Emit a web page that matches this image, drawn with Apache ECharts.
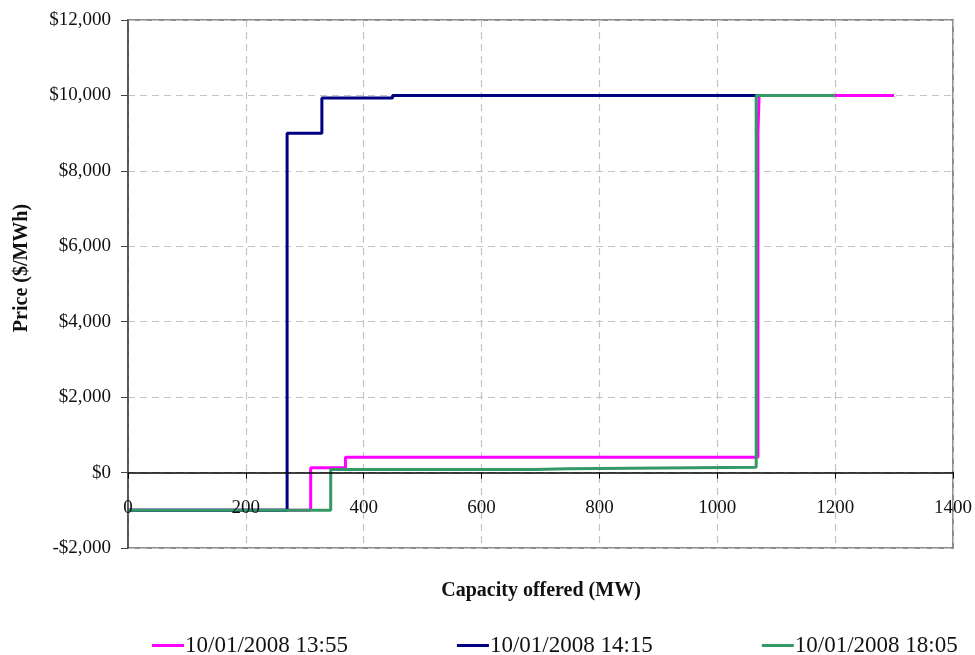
<!DOCTYPE html>
<html>
<head>
<meta charset="utf-8">
<script src="https://cdn.jsdelivr.net/npm/echarts@6/dist/echarts.min.js"></script>
<style>
  html, body { margin: 0; padding: 0; background: #fff; }
  #chart { width: 975px; height: 655px; }
</style>
</head>
<body>
<div id="chart"></div>
<script>
// Offer stacks: each point is [cumulative capacity (MW), price ($/MWh)] where a new price band begins
const seriesNames = ['10/01/2008 13:55', '10/01/2008 14:15', '10/01/2008 18:05'];

const mw1355 = [0, 310, 369, 1069, 1071, 1300];
const price1355 = [-1000, 130, 405, 9000, 10000, 10000];

const mw1415 = [0, 270, 329, 449, 1066];
const price1415 = [-1000, 9000, 9930, 10000, 10000];

const mw1805 = [0, 344, 690, 745, 1066, 1200];
const price1805 = [-1000, 80, 100, 140, 10000, 10000];

const xTicks = [0, 200, 400, 600, 800, 1000, 1200, 1400];
const yTicks = [-2000, 0, 2000, 4000, 6000, 8000, 10000, 12000];

const colors = ['#FF00FF', '#000080', '#339966'];
const FONT = '"Liberation Serif", "DejaVu Serif", serif';

// Grid box in pixels; the capacity axis is drawn along the $0 line
const GRID = { left: 128, right: 21, top: 20, bottom: 107 };
const plotH = 655 - GRID.top - GRID.bottom;
const zeroOffset = -plotH * (0 - yTicks[0]) / (yTicks[yTicks.length - 1] - yTicks[0]);

const gridLineStyle = { color: '#c4c4c4', type: [7, 5], width: 1.2 };

function pairs(xs, ys) { return xs.map((x, i) => [x, ys[i]]); }

function fmtPrice(v) {
  const s = '$' + Math.abs(v).toLocaleString('en-US');
  return v < 0 ? '-' + s : s;
}

const chart = echarts.init(document.getElementById('chart'), null, { renderer: 'canvas' });

const lineSeries = [
  pairs(mw1355, price1355),
  pairs(mw1415, price1415),
  pairs(mw1805, price1805)
].map((data, i) => ({
  name: seriesNames[i],
  type: 'line',
  step: 'end',
  data: data,
  xAxisIndex: 1,
  yAxisIndex: 1,
  showSymbol: false,
  symbol: 'none',
  animation: false,
  z: 3 + i,
  lineStyle: { color: colors[i], width: 3 },
  itemStyle: { color: colors[i] }
}));

const xRange = { type: 'value', min: xTicks[0], max: xTicks[xTicks.length - 1], interval: 200 };
const yRange = { type: 'value', min: yTicks[0], max: yTicks[yTicks.length - 1], interval: 2000 };

chart.setOption({
  animation: false,
  backgroundColor: '#fff',
  grid: {
    left: GRID.left, right: GRID.right, top: GRID.top, bottom: GRID.bottom,
    show: true,
    borderColor: '#8c8c8c',
    borderWidth: 2,
    backgroundColor: 'transparent'
  },
  xAxis: [
    Object.assign({}, xRange, {
      // dashed gridlines behind the curves
      axisLine: { show: false },
      axisTick: { show: false },
      axisLabel: { show: false },
      splitLine: { show: true, lineStyle: gridLineStyle },
      z: 0
    }),
    Object.assign({}, xRange, {
      // capacity axis along $0
      position: 'bottom',
      offset: zeroOffset,
      axisLine: { show: true, onZero: false, lineStyle: { color: '#000', width: 1.5 } },
      axisTick: { show: true, length: 6, lineStyle: { color: '#000' } },
      axisLabel: {
        margin: 26,
        color: '#111',
        fontFamily: FONT,
        fontSize: 19,
        formatter: v => String(v)
      },
      splitLine: { show: false },
      z: 6
    })
  ],
  yAxis: [
    Object.assign({}, yRange, {
      axisLine: { show: false },
      axisTick: { show: false },
      axisLabel: { show: false },
      splitLine: { show: true, lineStyle: gridLineStyle },
      z: 0
    }),
    Object.assign({}, yRange, {
      position: 'left',
      axisLine: { show: true, onZero: false, lineStyle: { color: '#444', width: 1.5 } },
      axisTick: { show: true, length: 7, lineStyle: { color: '#444' } },
      axisLabel: {
        margin: 17,
        color: '#111',
        fontFamily: FONT,
        fontSize: 19,
        formatter: fmtPrice
      },
      splitLine: { show: false },
      z: 6
    })
  ],
  legend: {
    left: 147,
    top: 629,
    itemGap: 109,
    itemWidth: 32,
    itemHeight: 3,
    icon: 'rect',
    textStyle: { fontFamily: FONT, fontSize: 23, color: '#111', padding: [0, 0, 0, -4] },
    data: seriesNames
  },
  graphic: [
    {
      type: 'text',
      style: {
        text: 'Capacity offered (MW)',
        font: 'bold 20px ' + FONT,
        fill: '#111',
        x: 541,
        y: 591,
        align: 'center',
        verticalAlign: 'middle'
      }
    },
    {
      type: 'text',
      x: 22,
      y: 268,
      rotation: Math.PI / 2,
      style: {
        text: 'Price ($/MWh)',
        font: 'bold 20px ' + FONT,
        fill: '#111',
        align: 'center',
        verticalAlign: 'middle'
      }
    }
  ],
  series: lineSeries
});
</script>
</body>
</html>
